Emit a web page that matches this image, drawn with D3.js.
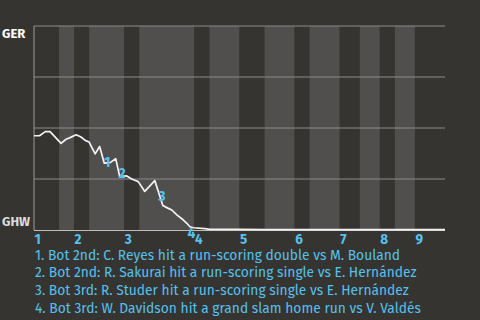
<!DOCTYPE html>
<html lang="en">
<head>
<meta charset="utf-8">
<title>Win Probability</title>
<script src="https://d3js.org/d3.v7.min.js"></script>
<style>
    body { margin: 0; background-color: #363430; }
    svg { display: block; }
</style>
</head>
<body>
<div id="chart_div"></div>
<script>
"use strict";

// half-inning boundaries, in plate appearances
var half_breaks = [0, 5, 8, 11, 18, 21, 32, 35, 41, 46, 52, 55, 61, 65, 69, 72, 76, 82];
var inning_labels = ["1", "2", "3", "4", "5", "6", "7", "8", "9"];

// win probability line (GER on top = 1, GHW at bottom = 0)
var wp_x = [0, 1.1, 2.25, 3.2, 5.4, 6.4, 7.3, 8.4, 9.3, 10.3, 11.0, 12.2, 13.1, 14.0, 15.2, 16.3, 17.1,
            18.5, 19.5, 20.0, 20.8, 22.1, 24.1, 25.7, 26.8, 27.5, 28.5, 29.8, 30.5, 31.1, 31.8, 34.1, 35.1,
            41, 46, 52, 55, 61, 65, 69, 72, 76, 82];
var wp_p = [0.462, 0.462, 0.482, 0.482, 0.425, 0.445, 0.454, 0.467, 0.457, 0.438, 0.431, 0.373, 0.409, 0.328, 0.330, 0.350, 0.262,
            0.265, 0.250, 0.245, 0.237, 0.189, 0.242, 0.120, 0.106, 0.098, 0.074, 0.049, 0.033, 0.016, 0.011, 0.007, 0.003,
            0.003, 0.002, 0.002, 0.002, 0.002, 0.002, 0.002, 0.002, 0.002, 0.002];

var grid_values = [0.25, 0.5, 0.75, 1];
var teams = ["GER", "GHW"];

// scoring events
var event_x = [14.6, 17.6, 25.5, 31.4];
var event_p = [0.333, 0.277, 0.167, -0.015];
var event_text = [
    "1. Bot 2nd: C. Reyes hit a run-scoring double vs M. Bouland",
    "2. Bot 2nd: R. Sakurai hit a run-scoring single vs E. Hernández",
    "3. Bot 3rd: R. Studer hit a run-scoring single vs E. Hernández",
    "4. Bot 3rd: W. Davidson hit a grand slam home run vs V. Valdés"
];

var svg_width = 480;
var svg_height = 320;
var blue = "#55c1ee";
var font = "'Fira Sans', Lato, 'Open Sans', sans-serif";

var x = d3.scaleLinear().domain([0, 82]).range([34, 445]);
var y = d3.scaleLinear().domain([0, 1]).range([230, 26]);

var svg = d3.select("#chart_div")
    .append("svg")
    .attr("width", svg_width)
    .attr("height", svg_height)
    .style("background-color", "#363430");

// bottom halves get the lighter band
var halves = d3.range(half_breaks.length - 1);
svg.append("g").selectAll("rect")
    .data(halves)
    .enter()
    .append("rect")
    .attr("x", function(i) { return x(half_breaks[i]); })
    .attr("y", y(1))
    .attr("width", function(i) { return x(half_breaks[i + 1]) - x(half_breaks[i]); })
    .attr("height", y(0) - y(1))
    .attr("fill", function(i) { return i % 2 == 1 ? "#504f4d" : "#363430"; });

svg.append("g").selectAll("line")
    .data(grid_values)
    .enter()
    .append("line")
    .attr("x1", x(0))
    .attr("x2", x(82))
    .attr("y1", function(d) { return y(d); })
    .attr("y2", function(d) { return y(d); })
    .attr("stroke", "#8c8b88")
    .attr("stroke-width", 1);

svg.append("line")
    .attr("x1", x(0)).attr("x2", x(0))
    .attr("y1", y(1)).attr("y2", y(0))
    .attr("stroke", "#9a9996");
svg.append("line")
    .attr("x1", x(0)).attr("x2", x(82))
    .attr("y1", y(0) + 0.5).attr("y2", y(0) + 0.5)
    .attr("stroke", "#bdbcb9");

var line = d3.line()
    .x(function(d) { return x(d[0]); })
    .y(function(d) { return y(d[1]); });
svg.append("path")
    .datum(d3.zip(wp_x, wp_p))
    .attr("d", line)
    .attr("fill", "none")
    .attr("stroke", "#f2f2f2")
    .attr("stroke-width", 1.7)
    .attr("stroke-linejoin", "round");

// team names
svg.append("text")
    .text(teams[0])
    .attr("x", 2)
    .attr("y", y(1) + 12)
    .attr("fill", "#ffffff")
    .style("font", "bold 13px " + font);
svg.append("text")
    .text(teams[1])
    .attr("x", 2)
    .attr("y", y(0) - 4)
    .attr("fill", "#dcdcdc")
    .style("font", "bold 13px " + font);

// inning numbers at the start of each top half
svg.append("g").selectAll("text")
    .data(inning_labels)
    .enter()
    .append("text")
    .text(function(d) { return d; })
    .attr("x", function(d, i) { return x(half_breaks[i * 2]) + 0.5; })
    .attr("y", 243.5)
    .attr("fill", blue)
    .style("font", "bold 13.5px " + font);

// event markers
svg.append("g").selectAll("text")
    .data(event_x)
    .enter()
    .append("text")
    .text(function(d, i) { return i + 1; })
    .attr("x", function(d) { return x(d); })
    .attr("y", function(d, i) { return y(event_p[i]) + 5; })
    .attr("text-anchor", "middle")
    .attr("fill", blue)
    .style("font", "bold 14px " + font);

svg.append("g").selectAll("text")
    .data(event_text)
    .enter()
    .append("text")
    .text(function(d) { return d; })
    .attr("x", 35)
    .attr("y", function(d, i) { return 259.5 + i * 17.7; })
    .attr("fill", blue)
    .style("font", "13.8px " + font);
</script>
</body>
</html>
